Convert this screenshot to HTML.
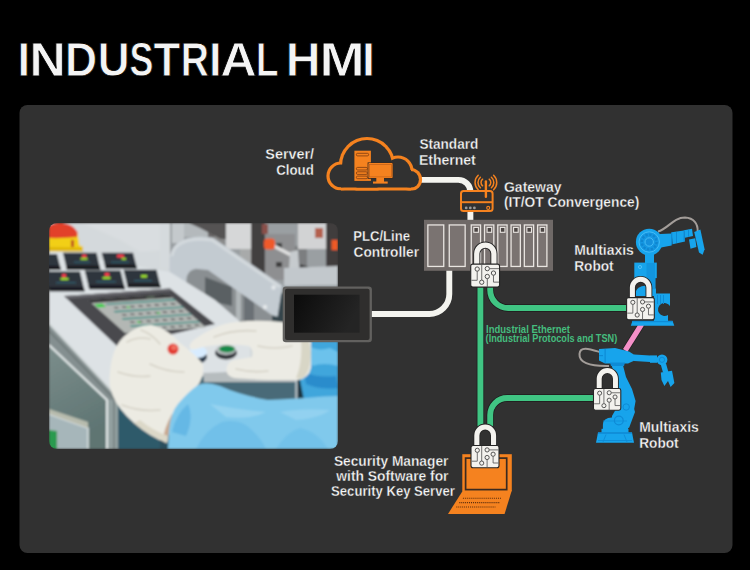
<!DOCTYPE html>
<html><head><meta charset="utf-8"><title>Industrial HMI</title>
<style>
html,body{margin:0;padding:0;background:#000;}
body{width:750px;height:570px;overflow:hidden;position:relative;font-family:"Liberation Sans",sans-serif;}
svg{position:absolute;left:0;top:0;display:block;}
.lbl{font-family:"Liberation Sans",sans-serif;font-weight:bold;fill:#f7f7f7;font-size:14px;stroke:#313131;stroke-width:0.3px;}
</style></head><body>
<svg width="750" height="570" viewBox="0 0 750 570">
<defs>
  <pattern id="keys" x="0" y="0" width="10" height="4" patternUnits="userSpaceOnUse"><rect x="0" y="0" width="5" height="4" fill="#4e5254"/></pattern>
  <linearGradient id="steelg" x1="0" y1="0" x2="0.3" y2="1"><stop offset="0" stop-color="#7c8e8c"/><stop offset="1" stop-color="#5e7472"/></linearGradient>
  <filter id="soft" x="-5%" y="-5%" width="110%" height="110%"><feGaussianBlur stdDeviation="0.8"/></filter>
  <clipPath id="photoClip"><rect x="49" y="223" width="289" height="226" rx="8"/></clipPath>
  <g id="lock">
    <path d="M6.35,1 V-9.6 A8.35,8.35 0 0 1 23.05,-9.6 V1" fill="none" stroke="#262626" stroke-width="6.9"/>
    <path d="M6.35,1.5 V-9.6 A8.35,8.35 0 0 1 23.05,-9.6 V1.5" fill="none" stroke="#f3f2ee" stroke-width="5.1"/>
    <rect x="0.5" y="0.5" width="28" height="22.3" rx="2" fill="#f3f2ee" stroke="#262626" stroke-width="1.1"/>
    <g fill="none" stroke="#595959" stroke-width="0.85">
      <path d="M11.2,1 V16 M6.8,7.4 V16.2 H1.2 M18.7,4.9 H28 M22.6,11.3 V18 H28 M16.6,14.6 V22.8"/>
    </g>
    <g fill="#f3f2ee" stroke="#454545" stroke-width="0.9">
      <circle cx="6.8" cy="5.3" r="2.1"/><circle cx="16.6" cy="4.9" r="2.1"/>
      <circle cx="22.6" cy="9.2" r="2.1"/><circle cx="16.6" cy="12.5" r="2.1"/>
      <circle cx="11.2" cy="18.1" r="2.1"/>
    </g>
  </g>
</defs>

<!-- Title -->
<g font-family="Liberation Sans" font-weight="bold" font-size="47.5" fill="#f4f4f4" stroke="#000" stroke-width="0.8">
<text x="17.5" y="75.6" textLength="12.6" lengthAdjust="spacingAndGlyphs">I</text>
<text x="29.4" y="75.6" textLength="36.2" lengthAdjust="spacingAndGlyphs">N</text>
<text x="65.0" y="75.6" textLength="32.1" lengthAdjust="spacingAndGlyphs">D</text>
<text x="97.7" y="75.6" textLength="31.8" lengthAdjust="spacingAndGlyphs">U</text>
<text x="129.5" y="75.6" textLength="23.9" lengthAdjust="spacingAndGlyphs">S</text>
<text x="153.5" y="75.6" textLength="26.7" lengthAdjust="spacingAndGlyphs">T</text>
<text x="180.7" y="75.6" textLength="28.2" lengthAdjust="spacingAndGlyphs">R</text>
<text x="209.0" y="75.6" textLength="12.6" lengthAdjust="spacingAndGlyphs">I</text>
<text x="220.2" y="75.6" textLength="36.5" lengthAdjust="spacingAndGlyphs">A</text>
<text x="255.9" y="75.6" textLength="22.5" lengthAdjust="spacingAndGlyphs">L</text>
<text x="285.7" y="75.6" textLength="34.8" lengthAdjust="spacingAndGlyphs">H</text>
<text x="319.5" y="75.6" textLength="45.2" lengthAdjust="spacingAndGlyphs">M</text>
<text x="362.0" y="75.6" textLength="13.0" lengthAdjust="spacingAndGlyphs">I</text>
</g>

<!-- panel -->
<rect x="19.5" y="105" width="713" height="448" rx="8" fill="#313131"/>

<!-- PHOTO -->
<g clip-path="url(#photoClip)">
  <g filter="url(#soft)">
  <!-- base console surface -->
  <rect x="49" y="223" width="289" height="226" fill="#d4d9dc"/>
  <!-- top-left background strip -->
  <polygon points="82,223 200,223 200,236 170,250 140,252 120,240" fill="#d9dde0"/>
  <!-- machinery behind, upper right -->
  <polygon points="170,223 338,223 338,318 272,318 186,268 170,262" fill="#9a9fa2"/>
  <rect x="172" y="223" width="12" height="20" fill="#c4c9cc"/>
  <rect x="184" y="223" width="24" height="14" fill="#b4b9bc"/>
  <rect x="208" y="223" width="6" height="18" fill="#6a6868"/>
  <rect x="214" y="223" width="11" height="22" fill="#8a8a8a"/>
  <polygon points="189,223 227,223 228,239 221,239 200,228" fill="#555353"/>
  <rect x="226" y="223" width="25" height="26" fill="#d6d7d8"/>
  <rect x="240" y="249" width="12" height="34" fill="#a8aaaa"/>
  <rect x="251" y="223" width="14" height="58" fill="#423f3f"/>
  <rect x="265" y="234" width="30" height="46" fill="#8e8f91"/>
  <rect x="276" y="243" width="6" height="5" fill="#3e3e3e"/>
  <rect x="276" y="262" width="6" height="5" fill="#3e3e3e"/>
  <rect x="295" y="246" width="12" height="26" fill="#7c7e80"/>
  <rect x="298" y="223" width="28" height="26" fill="#d2d3d4"/>
  <rect x="326" y="223" width="12" height="48" fill="#403c3c"/>
  <rect x="331.5" y="240" width="6.5" height="10" fill="#ee5a26"/>
  <rect x="315" y="228" width="8" height="10" fill="#b4604e"/>
  <rect x="262" y="224" width="6" height="10" fill="#8a5048"/>
  <path d="M272,245 L293,256" stroke="#e0e0e0" stroke-width="3.5"/>
  <rect x="264" y="238.5" width="11" height="11" rx="3.5" fill="#ef5a2a"/>
  <polygon points="290,252 298,250 300,282 288,286" fill="#c6cbce"/>
  <path d="M300,266 L313,270" stroke="#1e1e1e" stroke-width="3"/>
  <path d="M312,270 L319,278" stroke="#c8c070" stroke-width="2"/>
  <polygon points="284,268 338,266 338,285 284,286" fill="#c2c8cc"/>
  <polygon points="284,286 338,285 338,290 284,291" fill="#9aa2a6"/>
  <!-- under bracket region -->
  <polygon points="184,268 210,270 272,316 272,330 184,310" fill="#8a8f92"/>
  <polygon points="205,277 232,287 232,306 205,300" fill="#5a6063"/>
  <rect x="236" y="290" width="5" height="30" fill="#b0b6b8"/>
  <rect x="244" y="296" width="10" height="26" fill="#6a7074"/>
  <polygon points="272,300 284,292 290,300 290,334 272,334" fill="#34454b"/>
  <!-- pillar -->
  <rect x="160" y="223" width="10" height="45" fill="#d5dadd"/>
  <!-- bracket -->
  <path d="M169.6,292 L169.6,258 Q172,237 200.8,236.4 L212.8,237.6 L282.4,285.6 L277.6,316.8 L272.8,315.6 L208,270 L196,268.8 Q187,270 186.4,280 L186.4,298 Z" fill="#c3cbd1"/>
  <path d="M172,256 Q174,240 200,239 L212,240 L280,287" fill="none" stroke="#d3d9dd" stroke-width="3"/>
  <circle cx="273.5" cy="287.5" r="2.2" fill="#e4e8ea"/><circle cx="265" cy="307" r="2.2" fill="#e4e8ea"/>
  <!-- console surface front (light) -->
  <polygon points="49,250 170,272 215,300 250,330 250,365 120,400 49,324" fill="#dde2e5"/>
  <!-- e-stop -->
  <polygon points="49,233 77.5,233 79.5,245.5 83,246.5 83,251.3 49,251.3" fill="#f2cf14"/>
  <polygon points="49,247 83,247.5 83,251.3 49,251.3" fill="#e0b80c"/>
  <path d="M49,238 L49,226 Q52,222.5 62,223 Q73,224 77.5,232 L77,237 Q63,238.5 49,238 Z" fill="#e2402c"/>
  <rect x="71" y="240" width="3" height="7" fill="#c05020"/>
  <!-- modules -->
  <g fill="#2f363c">
  <polygon points="62.9,252.7 96.5,252.7 100.5,269.8 66.9,269.8"/>
  <polygon points="101.7,252.7 133,252.7 137,268.6 105.7,268.6"/>
  <polygon points="44,254 57,254 61,270 48,270"/>
  <polygon points="45,271.4 80,271.4 84.7,291.2 49.7,291.2"/>
  <polygon points="84.7,270.6 120.5,270.6 125.1,289.2 89.3,289.2"/>
  <polygon points="123.5,269.8 156.5,269.8 160.8,287.6 127.8,287.6"/>
  </g>
  <g fill="#1a1e22">
  <polygon points="65.9,265.6 99.5,265.6 100.5,269.8 66.9,269.8"/>
  <polygon points="104.6,264.4 135.9,264.4 137,268.6 105.7,268.6"/>
  <polygon points="47.0,265.8 60.0,265.8 61,270 48,270"/>
  <polygon points="48.7,287.0 83.7,287.0 84.7,291.2 49.7,291.2"/>
  <polygon points="88.3,285.0 124.1,285.0 125.1,289.2 89.3,289.2"/>
  <polygon points="126.8,283.4 159.8,283.4 160.8,287.6 127.8,287.6"/>
  </g>
  <g fill="#ff3d4d"><rect x="82" y="254.5" width="4.5" height="3" rx="1"/><rect x="117" y="254.5" width="7" height="3" rx="1"/><rect x="62" y="274" width="4" height="3.5" rx="1"/><rect x="104.5" y="273" width="5" height="3" rx="1"/></g>
  <g fill="#9fe02a"><rect x="80.5" y="258" width="7" height="1.8"/><rect x="121.5" y="258" width="4.5" height="1.8"/><rect x="60.5" y="278" width="8" height="2"/><rect x="102.5" y="277" width="8" height="2"/><rect x="141" y="275" width="6" height="2.6"/></g>
  <g fill="#2a6a80" opacity="0.7"><rect x="74" y="261.5" width="16" height="1.3"/><rect x="111" y="261.5" width="18" height="1.3"/><rect x="56" y="282" width="20" height="1.3"/><rect x="96" y="281" width="20" height="1.3"/><rect x="134" y="280" width="18" height="1.3"/></g>
  <!-- screen frame -->
  <polygon points="64,296 170,288.5 215,324 118,347" fill="#48484d"/>
  <polygon points="64,296 170,288.5 172,291 66.5,298.5" fill="#6a6a70"/>
  <g transform="matrix(0.81,-0.055,0.37,0.33,88,300)">
    <rect x="0" y="0" width="100" height="100" fill="#b3b7b4"/>
    <rect x="0" y="0" width="100" height="9" fill="#303033"/>
    <rect x="70" y="2" width="10" height="5" fill="#5a6a5a"/>
    <rect x="2" y="13" width="10" height="10" fill="#3ccf4a"/>
    <g fill="#3b8f86">
      <rect x="15" y="14" width="85" height="4"/><rect x="15" y="36" width="85" height="4"/><rect x="15" y="58" width="85" height="4"/><rect x="15" y="80" width="85" height="4"/>
    </g>
    <g fill="#55585a">
      <rect x="18" y="25" width="85" height="4" fill="url(#keys)"/>
      <rect x="18" y="47" width="85" height="4" fill="url(#keys)"/>
      <rect x="18" y="69" width="85" height="4" fill="url(#keys)"/>
      <rect x="18" y="90" width="85" height="4" fill="url(#keys)"/>
    </g>
    <rect x="35" y="26" width="4" height="4" fill="#3ccf4a"/><rect x="62" y="48" width="4" height="4" fill="#3ccf4a"/><rect x="28" y="70" width="4" height="4" fill="#3ccf4a"/>
  </g>
  <!-- steel front face -->
  <polygon points="49,324 120,400 120,449 49,449" fill="#848f90"/>
  <polygon points="49,345 107,400 107,449 49,449" fill="url(#steelg)"/>
  <polygon points="107,400 120,400 120,449 107,449" fill="#93a0a0"/>
  <path d="M49,345 L107,400 L107,449" fill="none" stroke="#e4eaea" stroke-width="2"/>
  <path d="M49,331 L114,399 L114,449" fill="none" stroke="#6a7474" stroke-width="1.2"/>
  <path d="M49,324 L120,400 L120,449" fill="none" stroke="#c8d0d0" stroke-width="1.5"/>
  <!-- label on steel -->
  <polygon points="49,414 88,428 88,449 49,449" fill="#a6b6ba"/>
  <path d="M49,414 L88,428 L88,449" fill="none" stroke="#dfe6e8" stroke-width="1.5"/>
  <polygon points="49,430 57,431 57,449 49,449" fill="#2a9a50"/>
  <polygon points="49,409 88,422 88,428 49,414" fill="#b8bcae"/>
  <!-- dark teal under console, right -->
  <polygon points="118,400 200,376 300,376 338,376 338,449 118,449" fill="#4a6a78"/>
  <polygon points="118,400 160,390 175,449 118,449" fill="#2f5a6a"/>
  <polygon points="203,373 230,372 296,376 296,382 204,382" fill="#b6bcbe"/>
  <rect x="295.5" y="378" width="2" height="26" fill="#c8d0d4"/>
  <rect x="297.5" y="376" width="8" height="28" fill="#1c3440"/>
  <!-- buttons -->
  <ellipse cx="198" cy="357" rx="9" ry="6.5" fill="#27384a"/>
  <ellipse cx="198" cy="352" rx="9" ry="6" fill="#d8ecff"/>
  <ellipse cx="226" cy="353" rx="11" ry="6.5" fill="#30353a"/>
  <ellipse cx="226" cy="350" rx="10" ry="5" fill="#b8bcbe"/>
  <ellipse cx="227" cy="349" rx="8" ry="3.5" fill="#168a4a"/>
  <!-- blue sleeve right side -->
  <polygon points="300,338 338,338 338,400 304,400 300,380" fill="#3fa6dc"/>
  <path d="M306,345 Q318,352 330,348 L338,352 L338,366 Q324,362 312,366 Z" fill="#6cc2ec"/>
  <path d="M304,372 Q318,378 336,376 L338,388 Q320,390 306,384 Z" fill="#2a8ccc"/>
  <!-- right glove -->
  <path d="M189.5,347 Q190,342 195,339 Q205,332 214,328 Q225,323 236,322 Q262,319 290,323 Q305,328 311,341 L311,368 Q309,378 298,380 L268,380 Q246,379 234,378 Q226,376 226.5,369 Q227,362 234,360 L252,357 Q254,350 249,346 Q240,344 226,344.5 Q212,345 203,347 Q195,350 191,349.5 Z" fill="#ecebe4"/>
  <path d="M300,330 Q310,336 311,352 Q311,372 302,379 L296,378 Q304,360 300,330 Z" fill="#d8d6c6"/>
  <!-- left glove -->
  <path d="M110,372 Q112,345 127,334 Q140,324 152,325 Q168,329 180,343 Q195,354 203,364 Q205,378 195,389 Q182,402 175,415 Q169,428 167,443 Q150,437 134,423 Q118,409 113,396 Q108,385 110,372 Z" fill="#ecebe3"/>
  <path d="M167,443 Q169,428 175,415 L172,414 Q164,428 163,440 Z" fill="#c8a890"/>
  <g fill="none" stroke="#d6d3c8" stroke-width="1.6" stroke-linecap="round">
    <path d="M127,342 Q138,336 150,339"/>
    <path d="M141,330 Q152,334 160,344"/>
    <path d="M118,372 Q135,378 150,376"/>
    <path d="M150,364 Q166,372 184,372"/>
    <path d="M122,405 Q140,412 160,410"/>
    <path d="M214,337 Q234,329 256,331"/>
    <path d="M258,346 Q274,350 292,346"/>
    <path d="M236,369 Q252,373 268,371"/>
  </g>
  <path d="M134,423 Q150,436 167,443 L168,436 Q152,430 140,420 Z" fill="#dcd8c8"/>
  <ellipse cx="173" cy="349" rx="5.5" ry="5.5" fill="#e23a30"/>
  <ellipse cx="174" cy="347.5" rx="3" ry="2.5" fill="#f07060"/>
  <!-- big light-blue sleeve -->
  <path d="M168,449 L169,430 Q171,412 178,404 Q188,392 198,385 Q206,381 220,386 Q240,395 268,400 Q290,399 305,398 Q325,396 338,396 L338,449 Z" fill="#80c9ec"/>
  <path d="M196,449 Q205,430 222,422 Q240,418 252,430 Q262,440 266,449 Z" fill="#62b8e6" opacity="0.5"/>
  <path d="M276,449 Q286,432 300,428 Q318,432 328,449 Z" fill="#66bbe8" opacity="0.5"/>
  <path d="M172,432 Q176,414 188,404 Q194,418 186,436 Z" fill="#4aa8de" opacity="0.5"/>
  <path d="M210,404 Q240,410 266,412 Q250,420 226,417 Z" fill="#a4daf4" opacity="0.6"/>
  <path d="M280,412 Q300,408 330,410 Q320,418 296,420 Z" fill="#a4daf4" opacity="0.5"/>
  <path d="M160,449 L160,440 Q166,442 168,449 Z" fill="#2a4e5c"/>
  </g>
</g>

<!-- white lines -->
<g fill="none" stroke="#f4f4ef" stroke-width="5.9" stroke-linecap="butt">
  <path d="M420,179.9 H458.4 A12,12 0 0 1 470.4,191.9 V221"/>
  <path d="M371,314 H429.3 A20,20 0 0 0 449.3,294 V270"/>
</g>

<!-- green lines -->
<g fill="none" stroke="#1c1c1c" stroke-width="7.4">
  <path d="M480.4,286 V426"/>
  <path d="M490.2,286 V290 A18,18 0 0 0 508.2,308 H627"/>
  <path d="M490.2,426 V415 A17,17 0 0 1 507.2,398 H594"/>
</g>
<g fill="none" stroke="#40c583" stroke-width="5.9">
  <path d="M480.4,286 V426"/>
  <path d="M490.2,286 V290 A18,18 0 0 0 508.2,308 H627"/>
  <path d="M490.2,426 V415 A17,17 0 0 1 507.2,398 H594"/>
</g>
<!-- pink line -->
<path d="M641.8,324 L625.2,350.5" stroke="#1c1c1c" stroke-width="6.6" fill="none"/>
<path d="M641.8,324 L625.2,350.5" stroke="#f590c8" stroke-width="5.2" fill="none"/>

<!-- Cloud -->
<clipPath id="cloudO"><rect x="300" y="120" width="140" height="70.6"/></clipPath>
<clipPath id="cloudI"><rect x="300" y="120" width="140" height="67.4"/></clipPath>
<g clip-path="url(#cloudO)" fill="#f5821f">
  <circle cx="341" cy="176" r="14.6"/><circle cx="367" cy="165" r="28.1"/>
  <circle cx="398" cy="171" r="15.6"/><circle cx="410.5" cy="179.5" r="11.6"/>
  <rect x="341" y="168" width="70" height="30"/>
</g>
<g clip-path="url(#cloudI)" fill="#313131">
  <circle cx="341" cy="176" r="11.4"/><circle cx="367" cy="165" r="24.9"/>
  <circle cx="398" cy="171" r="12.4"/><circle cx="410.5" cy="179.5" r="8.4"/>
  <rect x="341" y="170" width="70" height="30"/>
</g>
<g fill="#f5821f">
  <rect x="354.4" y="150.7" width="16.5" height="30.2"/>
  <rect x="367.6" y="162.4" width="25.6" height="16.4" fill="#3a2a20"/>
  <rect x="368.4" y="163.1" width="24.2" height="15" rx="0.8"/>
  <rect x="376.3" y="178" width="7.7" height="4"/>
  <rect x="373" y="181.5" width="14.7" height="2.1"/>
</g>
<g fill="none" stroke="#7a3a10" stroke-width="0.8">
  <rect x="356.4" y="153.3" width="12.2" height="2.6" rx="1.2"/>
  <rect x="356.4" y="167.4" width="11" height="2.6" rx="1.2"/>
  <rect x="356.4" y="171.8" width="11" height="2.6" rx="1.2"/>
  <rect x="356.4" y="176.1" width="11" height="2.6" rx="1.2"/>
  <rect x="369.6" y="164.3" width="21.8" height="12.6" stroke="#b85a18" stroke-width="0.6"/>
</g>

<!-- Gateway -->
<g fill="none" stroke="#f5821f" stroke-width="2">
  <rect x="461" y="191.1" width="31.6" height="20" rx="2.6" fill="#313131"/>
  <path d="M461.5,202.2 H492"/>
  <path d="M485.9,181.5 V196.8" stroke-width="2.4" stroke-linecap="round"/>
  <g stroke-width="1.5" stroke-linecap="round">
    <path d="M482.6,179.2 A4.2,4.2 0 0 0 482.6,185.8 M480.4,177.2 A7,7 0 0 0 480.4,187.8 M478.2,175.3 A9.8,9.8 0 0 0 478.2,189.7"/>
    <path d="M489.2,179.2 A4.2,4.2 0 0 1 489.2,185.8 M491.4,177.2 A7,7 0 0 1 491.4,187.8 M493.6,175.3 A9.8,9.8 0 0 1 493.6,189.7"/>
  </g>
  <circle cx="488.2" cy="207.9" r="1.5" stroke-width="1.1"/>
</g>
<g fill="#9a9a9a"><circle cx="466.2" cy="207.9" r="1.4"/><circle cx="470.3" cy="207.9" r="1.4"/><circle cx="474.4" cy="207.9" r="1.4"/></g>

<!-- PLC rack -->
<rect x="424" y="219.8" width="129" height="51" fill="#6f6967"/>
<g fill="#7a7371" stroke="#e9e5e1" stroke-width="1.3">
  <rect x="427.85" y="224.95" width="15.90" height="41.50"/>
  <rect x="449.25" y="224.95" width="15.90" height="41.50"/>
  <rect x="471.25" y="224.95" width="9.30" height="41.50"/>
  <rect x="484.52" y="224.95" width="9.30" height="41.50"/>
  <rect x="497.79" y="224.95" width="9.30" height="41.50"/>
  <rect x="511.06" y="224.95" width="9.30" height="41.50"/>
  <rect x="524.33" y="224.95" width="9.30" height="41.50"/>
  <rect x="537.60" y="224.95" width="9.30" height="41.50"/>
</g>
<g fill="#4c4644" stroke="#e9e5e1" stroke-width="1.1">
  <rect x="473.80" y="227.4" width="4.6" height="4.9"/>
  <rect x="487.07" y="227.4" width="4.6" height="4.9"/>
  <rect x="500.34" y="227.4" width="4.6" height="4.9"/>
  <rect x="513.61" y="227.4" width="4.6" height="4.9"/>
  <rect x="526.88" y="227.4" width="4.6" height="4.9"/>
  <rect x="540.15" y="227.4" width="4.6" height="4.9"/>
</g>

<!-- HMI monitor -->
<linearGradient id="scr" x1="0" y1="0" x2="1" y2="0.3"><stop offset="0" stop-color="#0b0b0b"/><stop offset="1" stop-color="#242424"/></linearGradient>
<rect x="282.7" y="286.5" width="89.2" height="55.8" rx="3.2" fill="#62615f"/>
<rect x="285" y="288.8" width="84.6" height="51.2" rx="2" fill="#2f2e2d"/>
<rect x="294" y="294.7" width="65.6" height="38" fill="url(#scr)"/>

<!-- Laptop -->
<g fill="#f5821f">
  <rect x="462.3" y="454.2" width="49.5" height="37"/>
  <path d="M462.9,490.5 H511.8 L504.6,513.9 H448 Z"/>
</g>
<rect x="465.6" y="458.1" width="41.1" height="31.5" fill="none" stroke="#3a2a20" stroke-width="1.7"/>
<g stroke="#5a2c0c" stroke-width="1.1" stroke-dasharray="1 0.95" fill="none">
  <path d="M462.9,498.3 H501.6"/>
  <path d="M459.3,502.6 H499.3"/>
  <path d="M456.3,507 H495.7"/>
</g>

<!-- Robot 1 -->
<g>
  <path d="M658,231.5 C668,229 673,217.5 685,217.5 C694,218 698,224 697.6,231" fill="none" stroke="#a39d99" stroke-width="2"/>
  <g fill="#17a4ec">
    <polygon points="660,234 671.6,233.6 671.6,245.4 661,247.5"/>
    <polygon points="671.6,232.2 684,230.4 685,241.5 672.6,244.2"/>
    <polygon points="684,230.3 692,228.8 693,236 685,237.8"/>
    <polygon points="689,239.5 695.2,238.3 696.4,247 690.5,248.8"/>
    <polygon points="694.2,232 700.4,229.4 704.6,249.2 702.6,254.8 699,252.6"/>
    <rect x="645" y="250" width="9" height="13"/>
    <rect x="634.3" y="262.6" width="22.5" height="15.5"/>
    <rect x="645" y="270" width="10.5" height="19"/>
    <path d="M636,291 A11,7 0 0 1 656,289 L656,296 L636,296 Z"/>
    <path d="M654,293.5 H670 V306 A6.5,6.5 0 1 0 668,315 V321 H654 Z"/>
    <polygon points="632.5,320.8 672.5,320.8 674.3,325.8 630.8,325.8"/>
  </g>
  <g fill="#0e8bd6">
    <rect x="671" y="232.5" width="1.3" height="12"/><rect x="676" y="232" width="1" height="11"/>
    <rect x="683.6" y="230.5" width="1.2" height="10"/><rect x="688" y="229.8" width="1" height="7"/>
    <rect x="646.5" y="263" width="8.5" height="26" opacity="0.55"/>
    <rect x="657" y="295" width="1" height="9"/><rect x="660" y="295" width="1" height="9"/><rect x="663" y="295" width="1" height="9"/>
    <rect x="632" y="321" width="41" height="1.2"/>
  </g>
  <circle cx="640" cy="267" r="1.6" fill="none" stroke="#5cc6fa" stroke-width="0.8"/>
  <circle cx="649.2" cy="242" r="13.3" fill="#17a4ec"/>
  <circle cx="649.2" cy="242" r="10.2" fill="#1597e2" stroke="#45bcf6" stroke-width="1"/>
  <circle cx="649.2" cy="242" r="7.4" fill="none" stroke="#0f86d0" stroke-width="2.4" stroke-dasharray="2.3 1.55"/>
  <circle cx="649.2" cy="242" r="4.2" fill="#1590dc" stroke="#45bcf6" stroke-width="1"/>
</g>
<!-- Robot 2 -->
<g>
  <path d="M599.5,352 C590,349 580,345.5 579.5,354 C579,362 588,366.5 609,366" fill="none" stroke="#a39d99" stroke-width="2"/>
  <g fill="#17a4ec">
    <polygon points="611,363 622.4,363 626,377 632,389 635.6,401 634,410 622,410 620,398 616,381"/>
    <polygon points="599,349 615,348 629,351.5 634.6,355 634.6,360.5 628,363.6 605,363.6 599,360.5"/>
    <polygon points="634,354.4 650,355.6 650,362 634,361"/>
    <rect x="650" y="355.4" width="7" height="7.4"/>
    <circle cx="662" cy="359.8" r="5.4"/>
    <polygon points="660.6,364 666,363.5 668.4,372 663,372.6"/>
    <polygon points="660.8,372.6 672,370.8 674.4,383 670.6,387 668,381 664.4,386 661.5,380"/>
    <polygon points="620,402 633,405 635,412 629,428 612,424 612,416"/>
    <circle cx="626.2" cy="407" r="5.8"/>
    <circle cx="618.8" cy="420.5" r="7.4"/>
    <path d="M602.9,430 L602.9,425 Q603,417.5 612,417.5 L628,418 L628,430 Z"/>
    <rect x="601.5" y="428.8" width="27" height="4"/>
    <polygon points="598,432.5 632,432.5 634,442.8 596,442.8"/>
  </g>
  <g fill="#0e8bd6">
    <rect x="604.5" y="349" width="1.2" height="14"/>
    <rect x="599" y="355" width="4" height="1.2"/>
    <polygon points="610,362.5 625,362.5 624,366 611,366"/>
    <rect x="598" y="432.3" width="34" height="1.6" opacity="0.9"/>
    <rect x="603" y="420" width="24" height="2" opacity="0.35"/>
  </g>
  <circle cx="662" cy="359.8" r="2.6" fill="none" stroke="#0e8bd6" stroke-width="1"/>
  <circle cx="626.2" cy="407" r="3.2" fill="none" stroke="#0e8bd6" stroke-width="1"/>
  <circle cx="618.8" cy="420.5" r="4.4" fill="none" stroke="#0e8bd6" stroke-width="1.2"/>
  <g stroke="#0e8bd6" stroke-width="0.9"><path d="M606,434.5 L603,442 M624,434.5 L627,442 M598,440.5 H632"/></g>
</g>

<!-- locks -->
<use href="#lock" transform="translate(470.2,263.6) scale(1.03)"/>
<use href="#lock" transform="translate(626.1,297.1) scale(0.99)"/>
<use href="#lock" transform="translate(593,388) scale(0.975)"/>
<use href="#lock" transform="translate(470.5,445) scale(1.0)"/>

<!-- labels -->
<text class="lbl" x="265.3" y="158.8" textLength="48.8" lengthAdjust="spacingAndGlyphs">Server/</text>
<text class="lbl" x="276.2" y="174.7" textLength="37.6" lengthAdjust="spacingAndGlyphs">Cloud</text>
<text class="lbl" x="419.4" y="149" textLength="58.9" lengthAdjust="spacingAndGlyphs">Standard</text>
<text class="lbl" x="418.9" y="164.7" textLength="56.9" lengthAdjust="spacingAndGlyphs">Ethernet</text>
<text class="lbl" x="504.0" y="192" textLength="57.5" lengthAdjust="spacingAndGlyphs">Gateway</text>
<text class="lbl" x="503.9" y="207" textLength="135.4" lengthAdjust="spacingAndGlyphs">(IT/OT Convergence)</text>
<text class="lbl" x="353.2" y="240.5" textLength="56.8" lengthAdjust="spacingAndGlyphs">PLC/Line</text>
<text class="lbl" x="353.6" y="256.8" textLength="65.4" lengthAdjust="spacingAndGlyphs">Controller</text>
<text class="lbl" x="574.2" y="255" textLength="59.6" lengthAdjust="spacingAndGlyphs">Multiaxis</text>
<text class="lbl" x="574.2" y="270.7" textLength="39.5" lengthAdjust="spacingAndGlyphs">Robot</text>
<text class="lbl" x="639.2" y="431.9" textLength="59.6" lengthAdjust="spacingAndGlyphs">Multiaxis</text>
<text class="lbl" x="639.2" y="447.9" textLength="39.5" lengthAdjust="spacingAndGlyphs">Robot</text>
<text class="lbl" x="333.9" y="465.9" textLength="114.5" lengthAdjust="spacingAndGlyphs">Security Manager</text>
<text class="lbl" x="336.3" y="480.8" textLength="112.2" lengthAdjust="spacingAndGlyphs">with Software for</text>
<text class="lbl" x="331.1" y="495.7" textLength="123.8" lengthAdjust="spacingAndGlyphs">Security Key Server</text>
<g font-family="Liberation Sans" font-weight="bold" font-size="10.3" fill="#45bd7e">
<text x="486.1" y="332.6" textLength="83.8" lengthAdjust="spacingAndGlyphs">Industrial Ethernet</text>
<text x="485.6" y="341.9" textLength="131.6" lengthAdjust="spacingAndGlyphs">(Industrial Protocols and TSN)</text>
</g>
</svg>
</body></html>
